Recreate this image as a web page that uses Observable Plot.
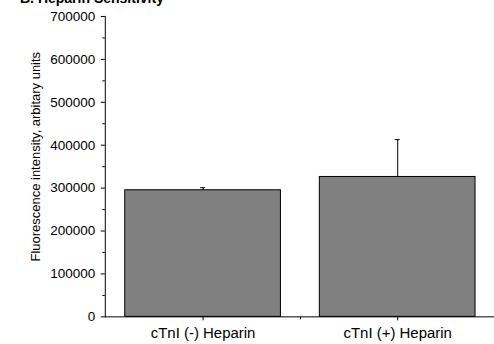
<!DOCTYPE html>
<html><head><meta charset="utf-8">
<script src="https://cdn.jsdelivr.net/npm/d3@7"></script>
<script src="https://cdn.jsdelivr.net/npm/@observablehq/plot@0.6"></script>
<style>
html,body{margin:0;padding:0;background:#fff;overflow:hidden;width:494px;height:344px;position:relative;}
#title{position:absolute;left:20px;top:-9px;font:bold 14px "Liberation Sans",Arial,sans-serif;line-height:14px;white-space:nowrap;z-index:2;}
#chart{position:absolute;left:0;top:0;z-index:1;}
</style></head>
<body>
<div id="chart"></div>
<div id="title">B. Heparin Sensitivity</div>
<script>
const categories = ["cTnI (-) Heparin", "cTnI (+) Heparin"];
const values = [295000, 326000];
const errors = [6000, 87000];
const yTicks = [0, 100000, 200000, 300000, 400000, 500000, 600000, 700000];
const yMinorTicks = [50000, 150000, 250000, 350000, 450000, 550000, 650000];
const yLabel = "Fluorescence intensity, arbitary units";

const data = categories.map((c, i) => ({cat: c, val: values[i], hi: values[i] + errors[i]}));

const W = 495, H = 344, mL = 105, mR = 0, mT = 16, mB = 27;
const pIn = 0.2, pOut = 0.1;
const step = (W - mL - mR) / (categories.length - pIn + 2 * pOut);
const bw = step * (1 - pIn);
const capW = 5;

const font = '"Liberation Sans", Arial, sans-serif';

const chart = Plot.plot({
  width: W, height: H,
  marginLeft: mL, marginRight: mR, marginTop: mT, marginBottom: mB,
  style: {fontFamily: font, fontSize: "13.5px", color: "#000", background: "transparent"},
  x: {domain: categories, paddingInner: pIn, paddingOuter: pOut, label: null},
  y: {domain: [0, 700000], label: null},
  marks: [
    Plot.barY(data, {x: "cat", y: "val", fill: "#808080", stroke: "#000", strokeWidth: 1}),
    Plot.ruleX(data, {x: "cat", y1: "val", y2: "hi", stroke: "#000", strokeWidth: 1}),
    Plot.tickY(data, {x: "cat", y: "hi", stroke: "#000", strokeWidth: 1, insetLeft: (bw - capW) / 2, insetRight: (bw - capW) / 2}),
    Plot.ruleY([0], {stroke: "#000", strokeWidth: 1}),
    Plot.frame({anchor: "left", stroke: "#000", strokeWidth: 1}),
    Plot.axisY({ticks: yTicks, tickSize: 4, tickPadding: 6, tickFormat: d => String(d), fontSize: 13.5, label: null}),
    Plot.axisY({ticks: yMinorTicks, tickSize: 2.5, tickFormat: null, text: null, label: null}),
    Plot.axisX({tickSize: 4, tickPadding: 7, fontSize: 15, label: null}),
    Plot.axisX({ticks: [categories[0]], tickSize: 3, text: null, label: null, dx: step / 2}),
    Plot.text([yLabel], {text: d => d, frameAnchor: "left", textAnchor: "middle", rotate: -90, dx: -70, dy: -10, fontSize: 13, fill: "#000"})
  ]
});
document.getElementById("chart").appendChild(chart);
</script>
</body></html>
